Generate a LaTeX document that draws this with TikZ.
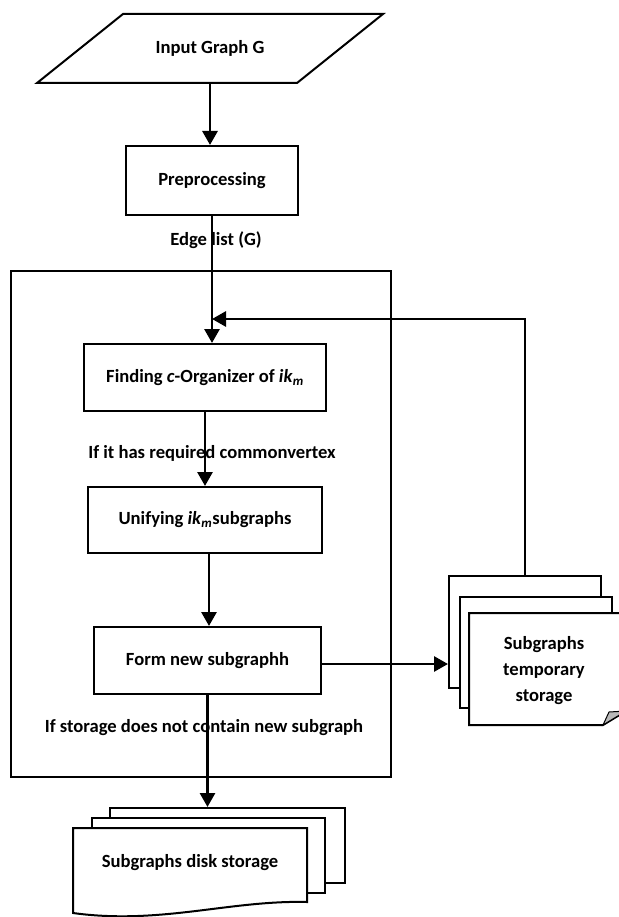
\documentclass[tikz,border=0pt]{standalone}
\usepackage{fontspec}
\setmainfont{Carlito}
\usetikzlibrary{arrows.meta}
\begin{document}
\begin{tikzpicture}[x=1pt,y=-1pt,
  bx/.style={draw, line width=2pt, inner sep=0pt, fill=white, align=center},
  lbl/.style={inner sep=0pt, font=\bfseries\fontsize{18.6}{26}\selectfont},
  arr/.style={line width=2.8pt, -{Triangle[length=14pt,width=15pt]}},
  every node/.style={font=\bfseries\fontsize{18.6}{26}\selectfont}]
\useasboundingbox (0,0) rectangle (618,917);

% input parallelogram
\draw[line width=2pt, line join=miter] (123,14) -- (383,14) -- (297,83) -- (37,83) -- cycle;
\node[inner sep=0pt, minimum width=260, minimum height=69] (input) at (210,48.5) {Input Graph G};

% preprocessing
\node[bx, minimum width=172, minimum height=69] (pre) at (212,180.5) {Preprocessing};

% big loop box
\node[draw, line width=2pt, minimum width=380, minimum height=506, inner sep=0pt] (loop) at (201,524) {};

% inner steps
\node[bx, minimum width=242, minimum height=67] (find) at (205,377.5) {Finding \textit{c}-Organizer of \textit{ik}\textsubscript{\textit{m}}};
\node[bx, minimum width=234, minimum height=66] (uni) at (205,520) {Unifying \textit{ik}\textsubscript{\textit{m}}subgraphs};
\node[bx, minimum width=227, minimum height=67] (form) at (207.5,660.5) {Form new subgraphh};

% temporary storage (stack of documents)
\node[bx, minimum width=152, minimum height=112] (tb) at (525,632) {};
\draw[line width=2pt, fill=white] (460,597) rectangle (612,708);
\draw[line width=2pt, fill=white] (469,613) -- (626,613) -- (626,711) -- (603,725) -- (469,725) -- cycle;
\draw[line width=1pt, fill=gray!55] (603,725) -- (609,712) -- (626,711) -- cycle;
\node[lbl, align=center] (tmp) at (544,671) {Subgraphs\\temporary\\storage};

% disk storage (stack of documents)
\node[bx, minimum width=235, minimum height=75] (dsb) at (227.5,845.5) {};
\draw[line width=2pt, fill=white] (92,818) rectangle (325,893);
\draw[line width=2pt, fill=white] (73,828) -- (307,828) -- (307,902)
   .. controls (230,900) and (160,925) .. (73,913) -- cycle;
\node[lbl] (disk) at (190,863) {Subgraphs disk storage};

% connectors
\coordinate (join) at (212,319);
\draw[arr] (input.south) -- (input.south |- pre.north);
\draw[arr] (pre.south) -- (pre.south |- find.north);
\draw[arr] (find.south) -- (find.south |- uni.north);
\draw[arr] ([xshift=4pt]uni.south) -- ([xshift=4pt]uni.south |- form.north);
\draw[arr] (form.east |- 0,664) -- (tb.west |- 0,664);
\draw[arr] (form.south) -- (form.south |- dsb.north);
\draw[arr] (tb.north) |- (join);

% labels
\node[lbl] (l1) at (216,240) {Edge list (G)};
\node[lbl] (l2) at (212,453) {If it has required commonvertex};
\node[lbl] (l3) at (204,728) {If storage does not contain new subgraph};
\end{tikzpicture}
\end{document}
